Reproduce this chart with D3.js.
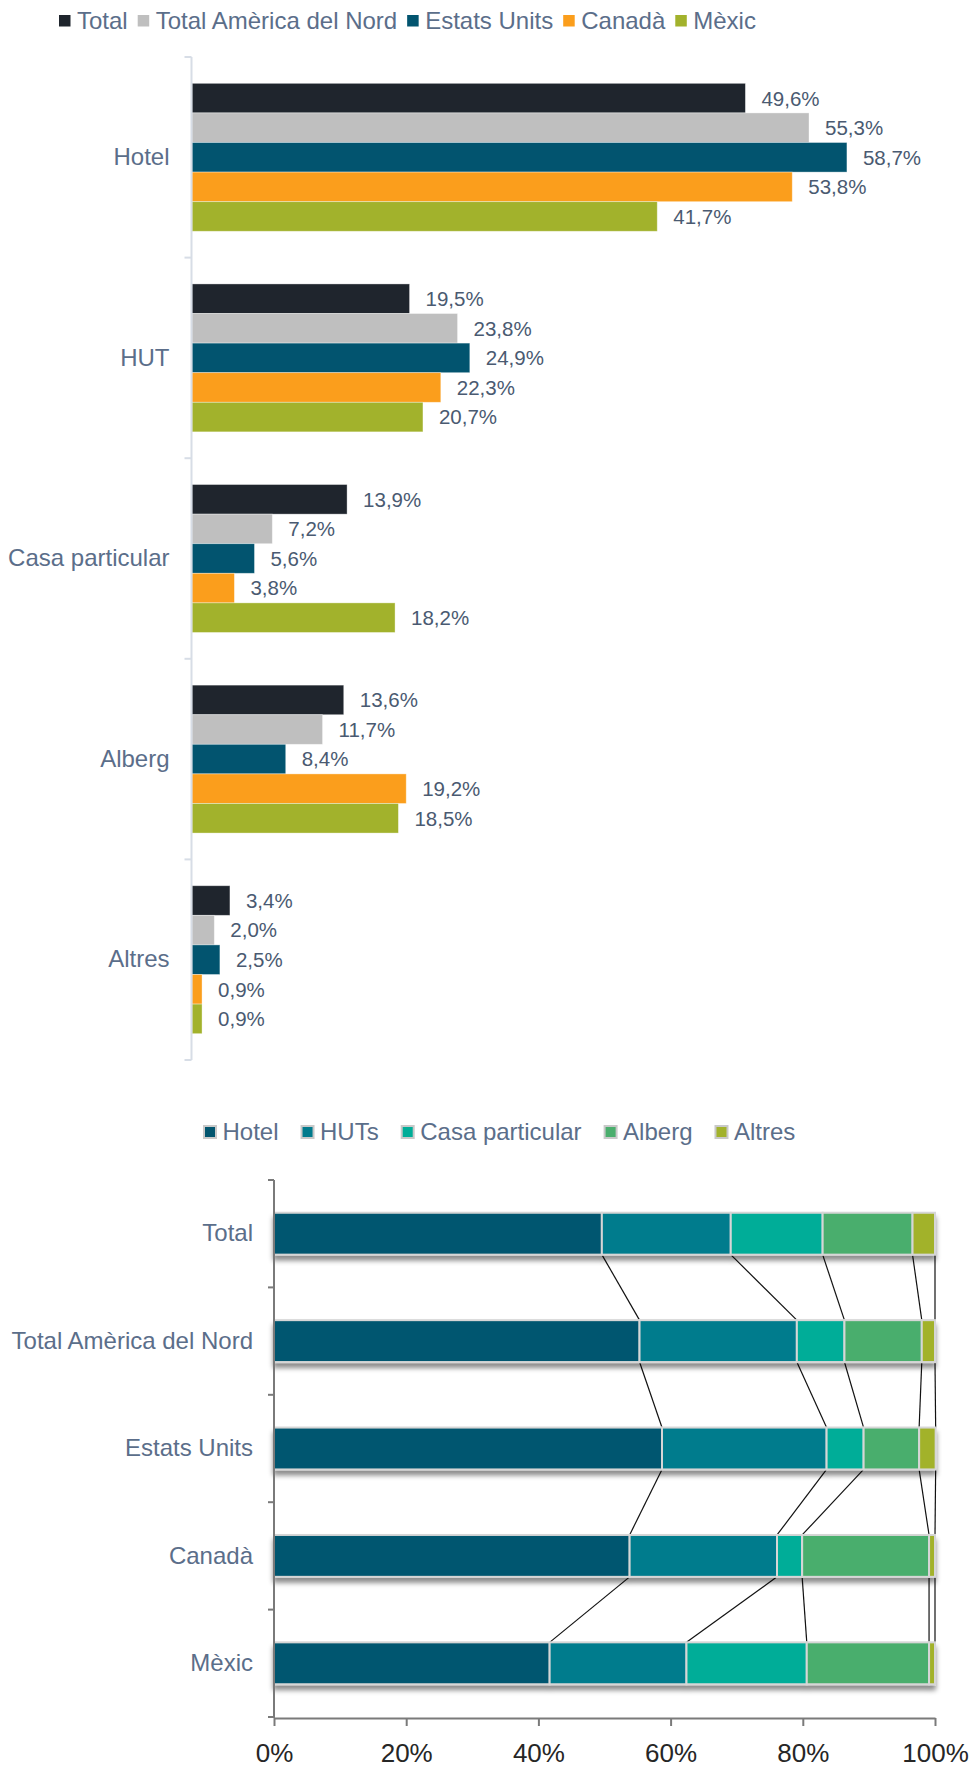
<!DOCTYPE html>
<html>
<head>
<meta charset="utf-8">
<script src="https://cdn.jsdelivr.net/npm/d3@7/dist/d3.min.js"></script>
<style>
body { margin: 0; background: #fff; }
text { font-family: "Liberation Sans", Arial, sans-serif; }
</style>
</head>
<body>
<div id="graph"></div>
<script>
// tipus d'allotjament (grafic de dalt) i etiquetes de la llegenda de baix
const categories = ["Hotel", "HUT", "Casa particular", "Alberg", "Altres"]
const stackKeys = ["Hotel", "HUTs", "Casa particular", "Alberg", "Altres"]
const regions = ["Total", "Total Amèrica del Nord", "Estats Units", "Canadà", "Mèxic"]

// % per tipus d'allotjament, mateix ordre que categories
const total = [49.6, 19.5, 13.9, 13.6, 3.4]
const totalNord = [55.3, 23.8, 7.2, 11.7, 2.0]
const estatsUnits = [58.7, 24.9, 5.6, 8.4, 2.5]
const canada = [53.8, 22.3, 3.8, 19.2, 0.9]
const mexic = [41.7, 20.7, 18.2, 18.5, 0.9]

const xTicks = [0, 20, 40, 60, 80, 100]

const regionColors = ["#1f252d", "#bfbfbf", "#02546f", "#fb9e1c", "#a2b22c"]
const typeColors = ["#02566f", "#017b8d", "#00ad98", "#4aae6d", "#a2b22c"]

const series = [total, totalNord, estatsUnits, canada, mexic]
    .map((values, i) => ({ name: regions[i], values }))

const labelColor = "#5b6e8a"
const valueColor = "#4a5a71"

let svg = d3.select("#graph")
    .append("svg")
    .attr("width", 973)
    .attr("height", 1769)

// ---------- grafic 1: barres agrupades ----------
const x1 = d3.scaleLinear().domain([0, 70]).range([192, 973])
const y1 = d3.scaleBand().domain(categories).range([57, 1060])
const y1inner = d3.scaleBand().domain(regions).range([0, y1.bandwidth()]).paddingOuter(0.89)

// llegenda de dalt
let leg1 = svg.append("g")
let lx = 59
series.forEach((s, i) => {
    leg1.append("rect")
        .attr("x", lx).attr("y", 15)
        .attr("width", 11.5).attr("height", 11.5)
        .attr("fill", regionColors[i])
    let t = leg1.append("text")
        .attr("x", lx + 18).attr("y", 21)
        .attr("dy", "0.35em")
        .attr("fill", labelColor)
        .style("font-size", "24px")
        .text(s.name)
    lx += 18 + t.node().getComputedTextLength() + 10
})

let groups = svg.append("g").selectAll("g.cat")
    .data(categories)
    .join("g")
    .attr("class", "cat")
    .attr("transform", d => `translate(0,${y1(d)})`)

let bars = groups.selectAll("g.bar")
    .data((c, ci) => series.map((s, si) => ({ name: s.name, value: s.values[ci], color: regionColors[si] })))
    .join("g")
    .attr("class", "bar")

bars.append("rect")
    .attr("x", x1(0))
    .attr("y", d => y1inner(d.name))
    .attr("width", d => x1(d.value) - x1(0))
    .attr("height", y1inner.bandwidth())
    .attr("fill", d => d.color)
    .attr("stroke", "rgba(255,255,255,0.45)")
    .attr("stroke-width", 0.8)

bars.append("text")
    .attr("x", d => x1(d.value) + 16)
    .attr("y", d => y1inner(d.name) + y1inner.bandwidth() / 2)
    .attr("dy", "0.36em")
    .attr("fill", valueColor)
    .style("font-size", "20.5px")
    .text(d => d.value.toFixed(1).replace(".", ",") + "%")

// eix vertical
let ax1 = svg.append("g")
    .attr("transform", `translate(${x1(0) - 0.5},0)`)
    .call(d3.axisLeft(y1).tickSize(0).tickPadding(22))
ax1.select(".domain").remove()
ax1.selectAll("text")
    .attr("fill", labelColor)
    .style("font-size", "24px")
ax1.append("line")
    .attr("y1", y1.range()[0]).attr("y2", y1.range()[1])
    .attr("stroke", "#d7dde6").attr("stroke-width", 2)
ax1.selectAll("line.bound")
    .data(d3.range(categories.length + 1))
    .join("line")
    .attr("class", "bound")
    .attr("x1", -7).attr("x2", 0)
    .attr("y1", i => y1.range()[0] + i * y1.step())
    .attr("y2", i => y1.range()[0] + i * y1.step())
    .attr("stroke", "#d7dde6").attr("stroke-width", 2)

// ---------- grafic 2: barres apilades 100% ----------
const x2 = d3.scaleLinear().domain([0, 100]).range([274, 935])
const y2 = d3.scaleBand().domain(regions).range([1180, 1717]).paddingInner(0.61).paddingOuter(0.305)

let rows = series.map(s => {
    let row = { region: s.name }
    stackKeys.forEach((k, i) => row[k] = s.values[i])
    return row
})
let stacked = d3.stack().keys(stackKeys)(rows)

// ombra sota les barres
let defs = svg.append("defs")
defs.append("filter")
    .attr("id", "shadow")
    .attr("x", "-5%").attr("y", "-30%").attr("width", "110%").attr("height", "190%")
    .append("feDropShadow")
    .attr("dx", 0).attr("dy", 5)
    .attr("stdDeviation", 2.5)
    .attr("flood-color", "#000")
    .attr("flood-opacity", 0.45)

// llegenda de baix
let leg2 = svg.append("g")
let lx2 = 204
stackKeys.forEach((k, i) => {
    leg2.append("rect")
        .attr("x", lx2).attr("y", 1126)
        .attr("width", 12).attr("height", 12)
        .attr("fill", typeColors[i])
        .attr("stroke", "#c9c9c9").attr("stroke-width", 2)
    let t = leg2.append("text")
        .attr("x", lx2 + 18.5).attr("y", 1132)
        .attr("dy", "0.35em")
        .attr("fill", labelColor)
        .style("font-size", "24px")
        .text(k)
    lx2 += 18.5 + t.node().getComputedTextLength() + 23
})

// linies d'unio entre barres
let connectors = []
for (let r = 0; r < rows.length - 1; r++) {
    stacked.forEach(layer => {
        connectors.push({
            xa: x2(layer[r][1]), ya: y2(regions[r]) + y2.bandwidth(),
            xb: x2(layer[r + 1][1]), yb: y2(regions[r + 1])
        })
    })
}
svg.append("g").selectAll("line")
    .data(connectors)
    .join("line")
    .attr("x1", d => d.xa).attr("y1", d => d.ya)
    .attr("x2", d => d.xb).attr("y2", d => d.yb)
    .attr("stroke", "#111").attr("stroke-width", 1.2)

let rowG = svg.append("g").selectAll("g.row")
    .data(rows)
    .join("g")
    .attr("class", "row")
    .attr("filter", "url(#shadow)")

rowG.selectAll("rect")
    .data((row, ri) => stacked.map((layer, li) => ({ x0: layer[ri][0], x1: layer[ri][1], region: row.region, color: typeColors[li] })))
    .join("rect")
    .attr("x", d => x2(d.x0))
    .attr("y", d => y2(d.region))
    .attr("width", d => x2(d.x1) - x2(d.x0))
    .attr("height", y2.bandwidth())
    .attr("fill", d => d.color)
    .attr("stroke", "#d6d6d6")
    .attr("stroke-width", 2)

// eix y
let ax2 = svg.append("g")
    .attr("transform", `translate(${x2(0)},0)`)
    .call(d3.axisLeft(y2).tickSize(0).tickPadding(21))
ax2.select(".domain").remove()
ax2.selectAll("text")
    .attr("fill", labelColor)
    .style("font-size", "24px")
ax2.append("line")
    .attr("y1", y2.range()[0]).attr("y2", y2.range()[1] + 1)
    .attr("stroke", "#7a7a7a").attr("stroke-width", 2)
ax2.selectAll("line.bound")
    .data(d3.range(regions.length + 1))
    .join("line")
    .attr("class", "bound")
    .attr("x1", -6).attr("x2", 0)
    .attr("y1", i => y2.range()[0] + i * y2.step())
    .attr("y2", i => y2.range()[0] + i * y2.step())
    .attr("stroke", "#7a7a7a").attr("stroke-width", 2)

// eix x
let ax3 = svg.append("g")
    .attr("transform", `translate(0,${y2.range()[1] + 1})`)
    .call(d3.axisBottom(x2).tickValues(xTicks).tickFormat(d => d + "%").tickSize(8).tickSizeOuter(0).tickPadding(18))
ax3.select(".domain").attr("stroke", "#7a7a7a").attr("stroke-width", 2)
ax3.selectAll(".tick line").attr("stroke", "#7a7a7a").attr("stroke-width", 2)
ax3.selectAll("text")
    .attr("fill", "#262626")
    .style("font-size", "26px")
</script>
</body>
</html>
